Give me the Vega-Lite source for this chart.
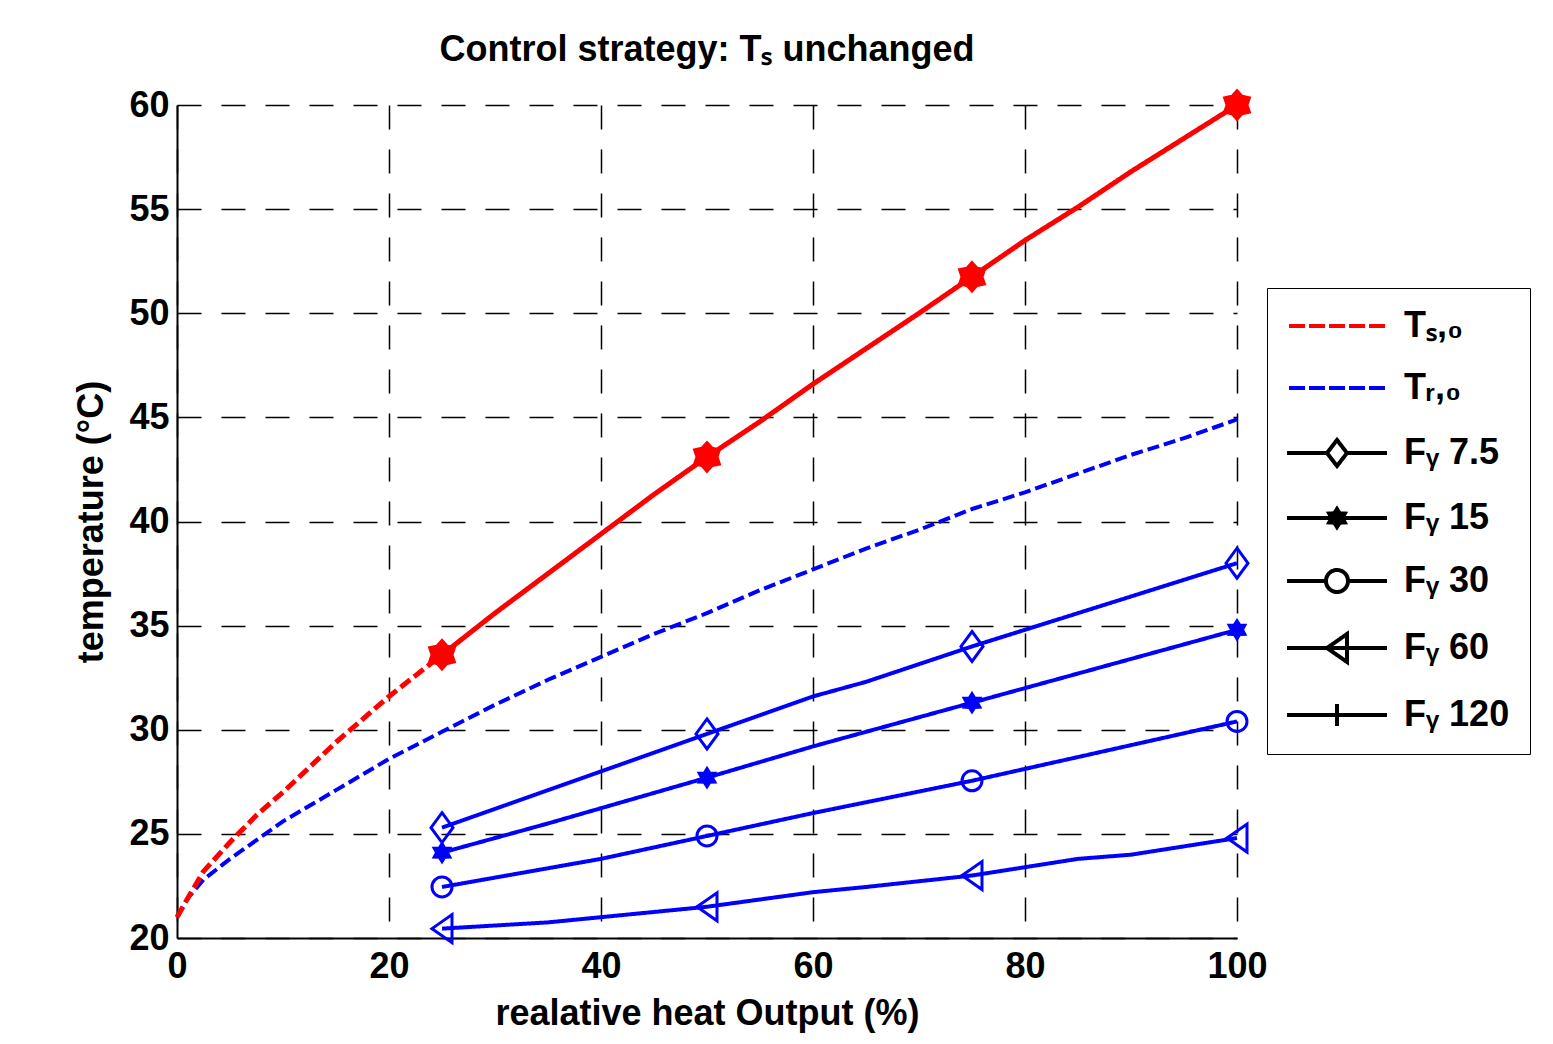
{
  "$schema": "https://vega.github.io/schema/vega-lite/v6.json",
  "width": 1060,
  "height": 833,
  "autosize": {"type": "none"},
  "padding": {"left": 177, "top": 105, "right": 316, "bottom": 106},
  "background": "white",
  "title": {"text": "Control strategy: Tₛ unchanged", "font": "Liberation Sans", "fontSize": 36, "fontWeight": "bold", "color": "black", "anchor": "middle", "frame": "group", "baseline": "alphabetic", "offset": -11},
  "config": {"view": {"stroke": null}, "font": "Liberation Sans"},
  "data": {"values": [
    {"series": "Ts0", "seg": "dashed", "x": 0, "y": 21.0},
    {"series": "Ts0", "seg": "dashed", "x": 1, "y": 21.9},
    {"series": "Ts0", "seg": "dashed", "x": 2.5, "y": 23.2},
    {"series": "Ts0", "seg": "dashed", "x": 5, "y": 24.6},
    {"series": "Ts0", "seg": "dashed", "x": 7.5, "y": 25.9},
    {"series": "Ts0", "seg": "dashed", "x": 10, "y": 27.0},
    {"series": "Ts0", "seg": "dashed", "x": 12.5, "y": 28.2},
    {"series": "Ts0", "seg": "dashed", "x": 15, "y": 29.4},
    {"series": "Ts0", "seg": "dashed", "x": 17.5, "y": 30.5},
    {"series": "Ts0", "seg": "dashed", "x": 20, "y": 31.6},
    {"series": "Ts0", "seg": "dashed", "x": 22.5, "y": 32.6},
    {"series": "Ts0", "seg": "dashed", "x": 25, "y": 33.6},
    {"series": "Ts0", "seg": "solid", "x": 25, "y": 33.6},
    {"series": "Ts0", "seg": "solid", "x": 30, "y": 35.6},
    {"series": "Ts0", "seg": "solid", "x": 35, "y": 37.5},
    {"series": "Ts0", "seg": "solid", "x": 40, "y": 39.4},
    {"series": "Ts0", "seg": "solid", "x": 45, "y": 41.3},
    {"series": "Ts0", "seg": "solid", "x": 50, "y": 43.1},
    {"series": "Ts0", "seg": "solid", "x": 55, "y": 44.8},
    {"series": "Ts0", "seg": "solid", "x": 60, "y": 46.6},
    {"series": "Ts0", "seg": "solid", "x": 65, "y": 48.3},
    {"series": "Ts0", "seg": "solid", "x": 70, "y": 50.0},
    {"series": "Ts0", "seg": "solid", "x": 75, "y": 51.75},
    {"series": "Ts0", "seg": "solid", "x": 80, "y": 53.5},
    {"series": "Ts0", "seg": "solid", "x": 85, "y": 55.1},
    {"series": "Ts0", "seg": "solid", "x": 90, "y": 56.8},
    {"series": "Ts0", "seg": "solid", "x": 95, "y": 58.4},
    {"series": "Ts0", "seg": "solid", "x": 100, "y": 60.0},
    {"series": "Tr0", "seg": "dashed", "x": 0, "y": 21.0},
    {"series": "Tr0", "seg": "dashed", "x": 1, "y": 21.9},
    {"series": "Tr0", "seg": "dashed", "x": 2.5, "y": 22.8},
    {"series": "Tr0", "seg": "dashed", "x": 5, "y": 23.8},
    {"series": "Tr0", "seg": "dashed", "x": 7.5, "y": 24.7},
    {"series": "Tr0", "seg": "dashed", "x": 10, "y": 25.6},
    {"series": "Tr0", "seg": "dashed", "x": 15, "y": 27.1},
    {"series": "Tr0", "seg": "dashed", "x": 20, "y": 28.6},
    {"series": "Tr0", "seg": "dashed", "x": 25, "y": 29.9},
    {"series": "Tr0", "seg": "dashed", "x": 30, "y": 31.2},
    {"series": "Tr0", "seg": "dashed", "x": 35, "y": 32.4},
    {"series": "Tr0", "seg": "dashed", "x": 40, "y": 33.5},
    {"series": "Tr0", "seg": "dashed", "x": 45, "y": 34.6},
    {"series": "Tr0", "seg": "dashed", "x": 50, "y": 35.6},
    {"series": "Tr0", "seg": "dashed", "x": 55, "y": 36.7},
    {"series": "Tr0", "seg": "dashed", "x": 60, "y": 37.7},
    {"series": "Tr0", "seg": "dashed", "x": 65, "y": 38.7},
    {"series": "Tr0", "seg": "dashed", "x": 70, "y": 39.6},
    {"series": "Tr0", "seg": "dashed", "x": 75, "y": 40.6},
    {"series": "Tr0", "seg": "dashed", "x": 80, "y": 41.4},
    {"series": "Tr0", "seg": "dashed", "x": 85, "y": 42.3},
    {"series": "Tr0", "seg": "dashed", "x": 90, "y": 43.2},
    {"series": "Tr0", "seg": "dashed", "x": 95, "y": 44.0},
    {"series": "Tr0", "seg": "dashed", "x": 100, "y": 44.9},
    {"series": "FY7.5", "seg": "solid", "x": 25, "y": 25.3},
    {"series": "FY7.5", "seg": "solid", "x": 50, "y": 29.8},
    {"series": "FY7.5", "seg": "solid", "x": 60, "y": 31.6},
    {"series": "FY7.5", "seg": "solid", "x": 65, "y": 32.3},
    {"series": "FY7.5", "seg": "solid", "x": 75, "y": 34.0},
    {"series": "FY7.5", "seg": "solid", "x": 100, "y": 38.0},
    {"series": "FY15", "seg": "solid", "x": 25, "y": 24.1},
    {"series": "FY15", "seg": "solid", "x": 35, "y": 25.5},
    {"series": "FY15", "seg": "solid", "x": 50, "y": 27.7},
    {"series": "FY15", "seg": "solid", "x": 60, "y": 29.2},
    {"series": "FY15", "seg": "solid", "x": 75, "y": 31.3},
    {"series": "FY15", "seg": "solid", "x": 100, "y": 34.8},
    {"series": "FY30", "seg": "solid", "x": 25, "y": 22.45},
    {"series": "FY30", "seg": "solid", "x": 40, "y": 23.8},
    {"series": "FY30", "seg": "solid", "x": 50, "y": 24.9},
    {"series": "FY30", "seg": "solid", "x": 60, "y": 26.0},
    {"series": "FY30", "seg": "solid", "x": 75, "y": 27.55},
    {"series": "FY30", "seg": "solid", "x": 100, "y": 30.4},
    {"series": "FY60", "seg": "solid", "x": 25, "y": 20.45},
    {"series": "FY60", "seg": "solid", "x": 35, "y": 20.75},
    {"series": "FY60", "seg": "solid", "x": 50, "y": 21.5},
    {"series": "FY60", "seg": "solid", "x": 60, "y": 22.2},
    {"series": "FY60", "seg": "solid", "x": 65, "y": 22.45},
    {"series": "FY60", "seg": "solid", "x": 75, "y": 23.0},
    {"series": "FY60", "seg": "solid", "x": 85, "y": 23.8},
    {"series": "FY60", "seg": "solid", "x": 90, "y": 24.0},
    {"series": "FY60", "seg": "solid", "x": 100, "y": 24.8}
  ]},
  "encoding": {
    "x": {"field": "x", "type": "quantitative", "title": "realative heat Output (%)",
      "scale": {"domain": [0, 100], "nice": false, "zero": false},
      "axis": {"values": [0, 20, 40, 60, 80, 100], "grid": true, "gridColor": "black", "gridDash": [24, 20], "gridWidth": 1.5, "gridOpacity": 1,
        "domainColor": "black", "domainWidth": 2, "ticks": false, "labelFlush": false,
        "labelFont": "Liberation Sans", "labelFontSize": 36, "labelFontWeight": "bold", "labelColor": "black", "labelPadding": 11,
        "titleFont": "Liberation Sans", "titleFontSize": 36, "titleFontWeight": "bold", "titleColor": "black", "titlePadding": 12}},
    "y": {"field": "y", "type": "quantitative", "title": "temperature (°C)",
      "scale": {"domain": [20, 60], "nice": false, "zero": false},
      "axis": {"values": [20, 25, 30, 35, 40, 45, 50, 55, 60], "grid": true, "gridColor": "black", "gridDash": [24, 20], "gridWidth": 1.5, "gridOpacity": 1,
        "domainColor": "black", "domainWidth": 2, "ticks": false, "labelFlush": false,
        "labelFont": "Liberation Sans", "labelFontSize": 36, "labelFontWeight": "bold", "labelColor": "black", "labelPadding": 8,
        "titleFont": "Liberation Sans", "titleFontSize": 36, "titleFontWeight": "bold", "titleColor": "black", "titlePadding": 18}}
  },
  "resolve": {"scale": {"stroke": "independent"}},
  "layer": [
    {
      "transform": [{"filter": "datum.series != 'Ts0'"}],
      "mark": {"type": "line", "stroke": "#0000ff", "strokeWidth": 4, "strokeCap": "butt", "strokeJoin": "round"},
      "encoding": {
        "detail": {"field": "series", "type": "nominal"},
        "strokeDash": {"field": "seg", "type": "nominal", "scale": {"domain": ["solid", "dashed"], "range": [[1, 0], [12, 5]]}, "legend": null}
      }
    },
    {
      "transform": [{"filter": "datum.series == 'Ts0'"}],
      "mark": {"type": "line", "stroke": "#ff0000", "strokeWidth": 5, "strokeCap": "butt", "strokeJoin": "round"},
      "encoding": {
        "strokeDash": {"field": "seg", "type": "nominal", "legend": null}
      }
    },
    {
      "transform": [{"filter": "false"}],
      "mark": {"type": "line", "strokeWidth": 4},
      "encoding": {
        "stroke": {"field": "series", "type": "nominal",
          "scale": {"domain": ["Ts0", "Tr0", "FY7.5", "FY15", "FY30", "FY60", "FY120"], "range": ["#ff0000", "#0000ff", "#000000", "#000000", "#000000", "#000000", "#000000"]},
          "legend": {
            "orient": "none", "legendX": 1090, "legendY": 183, "title": null,
            "strokeColor": "black", "fillColor": "white", "padding": 20,
            "symbolSize": 400, "symbolOffset": 32, "labelOffset": 49, "rowPadding": 26,
            "labelFont": "Liberation Sans", "labelFontSize": 36, "labelFontWeight": "bold", "labelColor": "black", "labelLimit": 400,
            "labelExpr": "datum.value == 'Ts0' ? 'Tₛ,₀' : datum.value == 'Tr0' ? 'Tᵣ,₀' : datum.value == 'FY7.5' ? 'Fᵧ 7.5' : datum.value == 'FY15' ? 'Fᵧ 15' : datum.value == 'FY30' ? 'Fᵧ 30' : datum.value == 'FY60' ? 'Fᵧ 60' : 'Fᵧ 120'",
            "encode": {"symbols": {"update": {
              "shape": {"signal": "datum.value == 'Ts0' || datum.value == 'Tr0' ? 'M-4.8,0H-3.2M-2.8,0H-1.2M-0.8,0H0.8M1.2,0H2.8M3.2,0H4.8' : datum.value == 'FY7.5' ? 'M-5,0H-1M1,0H5M0,-1.3L1,0L0,1.3L-1,0Z' : datum.value == 'FY15' ? 'M-5,0H5M0,-0.9L0.27,-0.47L0.78,-0.45L0.54,0L0.78,0.45L0.27,0.47L0,0.9L-0.27,0.47L-0.78,0.45L-0.54,0L-0.78,-0.45L-0.27,-0.47Z' : datum.value == 'FY30' ? 'M-5,0H-1.1M1.1,0H5M-1.1,0A1.1,1.1,0,1,0,1.1,0A1.1,1.1,0,1,0,-1.1,0Z' : datum.value == 'FY60' ? 'M-5,0H5M-1,0L1,-1.4L1,1.4Z' : 'M-5,0H5M0,-1.1V1.1'"},
              "fill": {"signal": "datum.value == 'FY15' ? 'black' : 'transparent'"},
              "strokeWidth": {"value": 4},
              "strokeDash": {"value": [1, 0]},
              "opacity": {"value": 1},
              "size": {"value": 400}
            }}}
          }}
      }
    },
    {
      "transform": [{"filter": "datum.series == 'FY7.5' && datum.x % 25 == 0"}],
      "mark": {"type": "point", "shape": "M0,-1.36L1,0L0,1.36L-1,0Z", "size": 484, "filled": false, "stroke": "#0000ff", "strokeWidth": 3, "opacity": 1}
    },
    {
      "transform": [{"filter": "datum.series == 'FY15' && datum.x % 25 == 0"}],
      "mark": {"type": "point", "shape": "M0,-1L0.3,-0.52L0.87,-0.5L0.6,0L0.87,0.5L0.3,0.52L0,1L-0.3,0.52L-0.87,0.5L-0.6,0L-0.87,-0.5L-0.3,-0.52Z", "size": 400, "filled": true, "fill": "#0000ff", "stroke": "#0000ff", "strokeWidth": 2, "opacity": 1}
    },
    {
      "transform": [{"filter": "datum.series == 'FY30' && datum.x % 25 == 0"}],
      "mark": {"type": "point", "shape": "circle", "size": 400, "filled": false, "stroke": "#0000ff", "strokeWidth": 3, "opacity": 1}
    },
    {
      "transform": [{"filter": "datum.series == 'FY60' && datum.x % 25 == 0"}],
      "mark": {"type": "point", "shape": "M-1,0L1,-1.4L1,1.4Z", "size": 400, "filled": false, "stroke": "#0000ff", "strokeWidth": 3, "opacity": 1}
    },
    {
      "transform": [{"filter": "datum.series == 'Ts0' && datum.seg == 'solid' && datum.x % 25 == 0"}],
      "mark": {"type": "point", "shape": "M0,-1L0.35,-0.61L0.87,-0.5L0.7,0L0.87,0.5L0.35,0.61L0,1L-0.35,0.61L-0.87,0.5L-0.7,0L-0.87,-0.5L-0.35,-0.61Z", "size": 900, "filled": true, "fill": "#ff0000", "stroke": "#ff0000", "strokeWidth": 2, "opacity": 1}
    }
  ]
}
